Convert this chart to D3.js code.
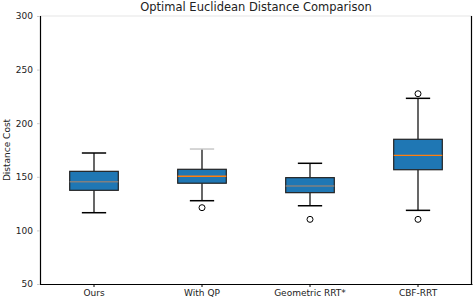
<!DOCTYPE html>
<html>
<head>
<meta charset="utf-8">
<script src="https://cdn.jsdelivr.net/npm/d3@7"></script>
<style>
  body { margin: 0; background: #fff; }
  text { font-family: "DejaVu Sans", sans-serif; }
</style>
</head>
<body>
<div id="chart"></div>
<script>
var methods = ['Ours', 'With QP', 'Geometric RRT*', 'CBF-RRT'];
var whiskerLow = [116.5, 127.7, 123.0, 118.7];
var boxLow = [137.4, 144.0, 135.2, 156.6];
var medians = [145.4, 150.5, 141.4, 170.0];
var boxHigh = [155.1, 157.0, 149.2, 185.0];
var whiskerHigh = [172.2, 175.9, 162.6, 223.2];
var outliers = [[], [121.2], [110.3], [110.3, 227.5]];
var medianColors = ['#808080', '#ff7f0e', '#808080', '#ff7f0e'];
var yTicks = [50, 100, 150, 200, 250, 300];

var width = 474, height = 300,
    margin = {left: 40, right: 2, top: 16, bottom: 16};

var svg = d3.select('#chart').append('svg')
    .attr('width', width)
    .attr('height', height);

var x = d3.scaleBand()
    .domain(methods)
    .range([margin.left, width - margin.right]);

var y = d3.scaleLinear()
    .domain([50, 300])
    .range([height - margin.bottom, margin.top]);

var boxW = x.bandwidth() * 0.45;

// frame
svg.append('line')
    .attr('x1', margin.left).attr('x2', width - margin.right)
    .attr('y1', margin.top).attr('y2', margin.top)
    .attr('stroke', '#eeeeee').attr('stroke-width', 1.5);
svg.append('line')
    .attr('x1', width - margin.right - 0.5).attr('x2', width - margin.right - 0.5)
    .attr('y1', margin.top).attr('y2', height - margin.bottom)
    .attr('stroke', '#000').attr('stroke-width', 1.2);

// axes
var yAxis = svg.append('g')
    .attr('transform', 'translate(' + margin.left + ',0)')
    .call(d3.axisLeft(y).tickValues(yTicks).tickSize(3).tickPadding(4));
yAxis.select('.domain').attr('stroke', '#000').attr('stroke-width', 1.2);
yAxis.selectAll('.tick line').attr('stroke', '#cccccc');
yAxis.selectAll('.tick text').attr('font-size', 9).attr('fill', '#222');

var xAxis = svg.append('g')
    .attr('transform', 'translate(0,' + (height - margin.bottom) + ')')
    .call(d3.axisBottom(x).tickSize(3).tickPadding(3).tickSizeOuter(0));
xAxis.select('.domain').attr('stroke', '#000').attr('stroke-width', 1.2);
xAxis.selectAll('.tick line').attr('stroke', '#000');
xAxis.selectAll('.tick text').attr('font-size', 9).attr('fill', '#222');

// boxes
var g = svg.append('g');
methods.forEach(function (m, i) {
    var cx = x(m) + x.bandwidth() / 2;
    g.append('line')
        .attr('x1', cx).attr('x2', cx)
        .attr('y1', y(whiskerLow[i])).attr('y2', y(boxLow[i]))
        .attr('stroke', '#000').attr('stroke-width', 1.2);
    g.append('line')
        .attr('x1', cx).attr('x2', cx)
        .attr('y1', y(boxHigh[i])).attr('y2', y(whiskerHigh[i]))
        .attr('stroke', '#000').attr('stroke-width', 1.2);
    [whiskerLow[i], whiskerHigh[i]].forEach(function (v, k) {
        g.append('line')
            .attr('x1', cx - boxW / 4).attr('x2', cx + boxW / 4)
            .attr('y1', y(v)).attr('y2', y(v))
            .attr('stroke', (i === 1 && k === 1) ? '#c8c8c8' : '#000')
            .attr('stroke-width', 1.5);
    });
    g.append('rect')
        .attr('x', cx - boxW / 2)
        .attr('y', y(boxHigh[i]))
        .attr('width', boxW)
        .attr('height', y(boxLow[i]) - y(boxHigh[i]))
        .attr('fill', '#1f77b4')
        .attr('stroke', '#222')
        .attr('stroke-width', 1.2);
    g.append('line')
        .attr('x1', cx - boxW / 2).attr('x2', cx + boxW / 2)
        .attr('y1', y(medians[i])).attr('y2', y(medians[i]))
        .attr('stroke', medianColors[i]).attr('stroke-width', 1.3);
    outliers[i].forEach(function (v) {
        g.append('circle')
            .attr('cx', cx).attr('cy', y(v)).attr('r', 3)
            .attr('fill', 'none').attr('stroke', '#000').attr('stroke-width', 1);
    });
});

// labels
svg.append('text')
    .attr('x', (margin.left + width - margin.right) / 2)
    .attr('y', 11)
    .attr('text-anchor', 'middle')
    .attr('font-size', 11.5)
    .attr('fill', '#222')
    .text('Optimal Euclidean Distance Comparison');

svg.append('text')
    .attr('transform', 'translate(7,' + ((margin.top + height - margin.bottom) / 2) + ') rotate(-90)')
    .attr('text-anchor', 'middle')
    .attr('dominant-baseline', 'central')
    .attr('font-size', 9)
    .attr('fill', '#222')
    .text('Distance Cost');
</script>
</body>
</html>
